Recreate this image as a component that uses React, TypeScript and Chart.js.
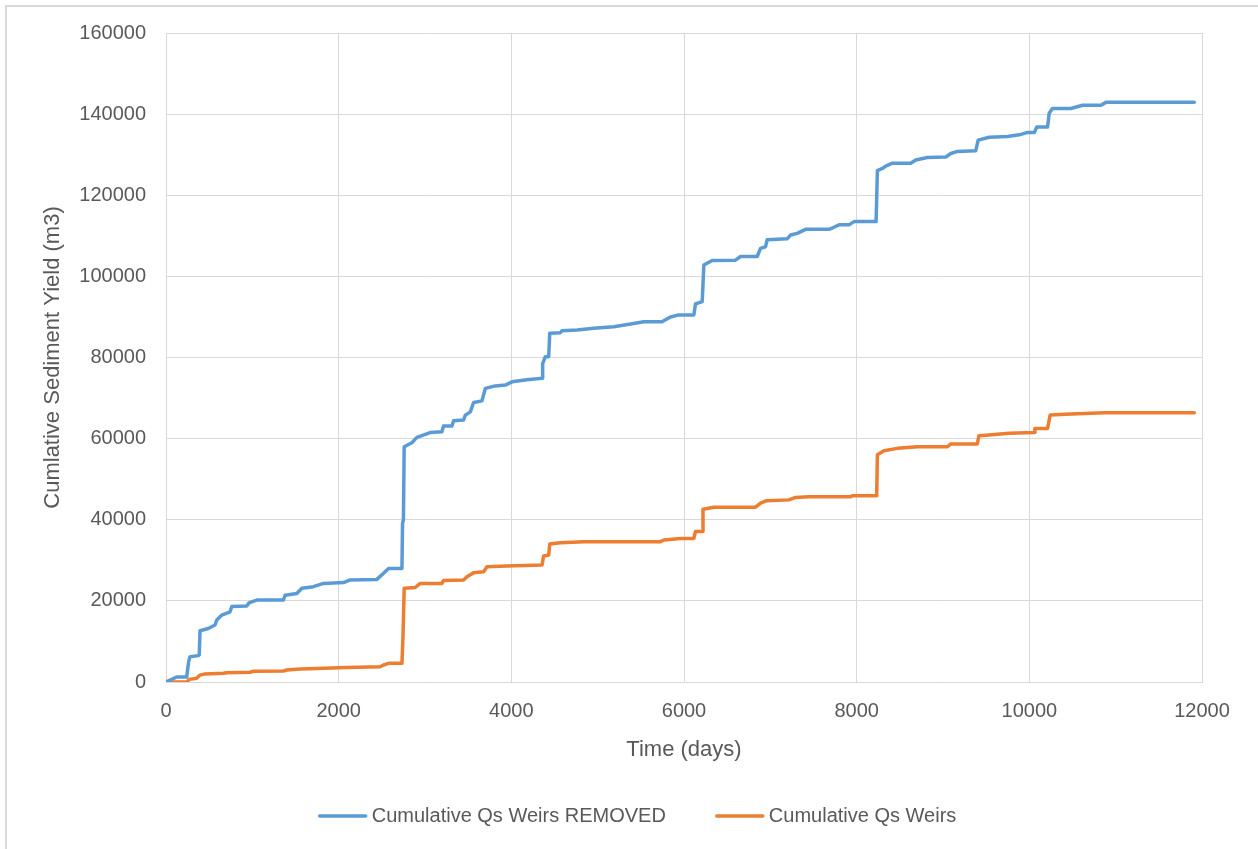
import React, { useEffect, useRef } from "react";
import { Chart, registerables } from "chart.js";

Chart.register(...registerables);

// ---- data ----
const seriesLabels = ["Cumulative Qs Weirs REMOVED", "Cumulative Qs Weirs"];
const xTicks = [0, 2000, 4000, 6000, 8000, 10000, 12000];
const yTicks = [0, 20000, 40000, 60000, 80000, 100000, 120000, 140000, 160000];

const removedDays = [
  0, 124, 240, 262, 278, 375, 385, 394, 490, 568, 588, 646, 742, 762, 935, 960, 1050, 1360, 1380, 1515,
  1573, 1708, 1824, 2056, 2133, 2443, 2520, 2578, 2733, 2740, 2750, 2759, 2848, 2906, 3061, 3196, 3214,
  3312, 3331, 3447, 3467, 3525, 3563, 3660, 3699, 3814, 3930, 4008, 4181, 4356, 4363, 4394, 4433, 4445,
  4567, 4586, 4762, 4954, 5186, 5417, 5533, 5745, 5843, 5939, 6114, 6133, 6211, 6230, 6326, 6596, 6655,
  6848, 6886, 6944, 6963, 7197, 7235, 7311, 7408, 7679, 7737, 7796, 7911, 7969, 8225, 8240, 8298, 8336,
  8414, 8626, 8684, 8819, 9032, 9090, 9167, 9380, 9407, 9535, 9748, 9883, 9980, 10058, 10087, 10211, 10230,
  10268, 10481, 10617, 10829, 10887, 11911,
];
const removedValues = [
  0, 1240, 1240, 5000, 6240, 6500, 6700, 12650, 13200, 14050, 15300, 16500, 17300, 18600, 18750, 19500,
  20200, 20200, 21400, 21800, 23100, 23500, 24300, 24500, 25150, 25300, 26800, 28000, 28000, 39100, 40000,
  58000, 59000, 60300, 61500, 61700, 63100, 63100, 64400, 64600, 65800, 66600, 68900, 69300, 72400, 73000,
  73200, 74000, 74500, 74900, 78500, 80200, 80200, 86000, 86100, 86600, 86800, 87200, 87600, 88400, 88800,
  88800, 90000, 90500, 90500, 93200, 93800, 102800, 103900, 104000, 104900, 104900, 106900, 107300, 109000,
  109300, 110200, 110600, 111600, 111600, 112100, 112700, 112700, 113500, 113500, 126100, 126600, 127200,
  127900, 127900, 128700, 129300, 129400, 130300, 130800, 131000, 133600, 134300, 134500, 134900, 135500,
  135500, 136800, 136800, 140200, 141400, 141400, 142200, 142200, 142900, 142900,
];

const weirsDays = [
  0, 240, 270, 355, 394, 452, 665, 704, 974, 1012, 1360, 1399, 1554, 1747, 2095, 2481, 2520, 2578, 2733,
  2745, 2759, 2887, 2945, 3196, 3214, 3447, 3486, 3563, 3679, 3718, 3949, 4356, 4374, 4433, 4445, 4567,
  4838, 5728, 5767, 5959, 6114, 6133, 6211, 6220, 6345, 6829, 6887, 6957, 7215, 7293, 7447, 7930, 7949,
  8232, 8240, 8316, 8471, 8703, 9052, 9090, 9397, 9416, 9533, 9765, 10058, 10064, 10211, 10241, 10481,
  10867, 11911,
];
const weirsValues = [
  0, 0, 650, 900, 1700, 2000, 2150, 2300, 2400, 2650, 2700, 2950, 3200, 3350, 3600, 3750, 4200, 4600, 4600,
  11200, 23100, 23300, 24300, 24300, 25000, 25150, 25950, 26950, 27200, 28400, 28600, 28850, 31050, 31300,
  34000, 34350, 34600, 34600, 35000, 35400, 35400, 37100, 37100, 42600, 43100, 43100, 44100, 44700, 44900,
  45500, 45700, 45700, 45900, 45900, 56000, 57000, 57600, 58000, 58000, 58700, 58700, 60700, 60900, 61300,
  61500, 62500, 62500, 65800, 66100, 66400, 66400,
];

const colors = ["#5B9BD5", "#ED7D31"];
const FONT = '"Liberation Sans", Arial, sans-serif';
const TEXT = "#595959";
const GRID = "#D9D9D9";

const toPoints = (xs: number[], ys: number[]) => xs.map((x, i) => ({ x, y: ys[i] }));

const bottomLegend = {
  id: "bottomLegend",
  afterDraw(chart: any) {
    const ctx = chart.ctx as CanvasRenderingContext2D;
    ctx.save();
    ctx.font = `20px ${FONT}`;
    const lineLen = 50;
    const gapText = 4;
    const gapItem = 49;
    const items = chart.data.datasets.map((ds: any) => ({
      label: ds.label,
      color: ds.borderColor,
      width: ctx.measureText(ds.label).width,
    }));
    const total =
      items.reduce((s: number, it: any) => s + lineLen + gapText + it.width, 0) + gapItem * (items.length - 1);
    let x = chart.width / 2 + 8 - total / 2;
    const y = 816;
    items.forEach((it: any) => {
      ctx.strokeStyle = it.color;
      ctx.lineWidth = 3.5;
      ctx.lineCap = "round";
      ctx.beginPath();
      ctx.moveTo(x + 2, y);
      ctx.lineTo(x + lineLen - 2, y);
      ctx.stroke();
      ctx.fillStyle = TEXT;
      ctx.textBaseline = "middle";
      ctx.textAlign = "left";
      ctx.fillText(it.label, x + lineLen + gapText, y);
      x += lineLen + gapText + it.width + gapItem;
    });
    ctx.restore();
  },
};

export default function App() {
  const ref = useRef<HTMLCanvasElement | null>(null);

  useEffect(() => {
    if (!ref.current) return;
    const chart = new Chart(ref.current, {
      type: "line",
      data: {
        datasets: [
          {
            label: seriesLabels[0],
            data: toPoints(removedDays, removedValues),
            borderColor: colors[0],
            backgroundColor: colors[0],
            borderWidth: 3.5,
            pointRadius: 0,
            tension: 0,
            borderJoinStyle: "round",
            borderCapStyle: "round",
          },
          {
            label: seriesLabels[1],
            data: toPoints(weirsDays, weirsValues),
            borderColor: colors[1],
            backgroundColor: colors[1],
            borderWidth: 3.5,
            pointRadius: 0,
            tension: 0,
            borderJoinStyle: "round",
            borderCapStyle: "round",
          },
        ],
      },
      options: {
        animation: false,
        responsive: false,
        maintainAspectRatio: false,
        layout: { padding: { left: 40, right: 56, top: 33, bottom: 85.8 } },
        plugins: {
          legend: { display: false },
          tooltip: { enabled: false },
        },
        scales: {
          x: {
            type: "linear",
            min: xTicks[0],
            max: xTicks[xTicks.length - 1],
            afterBuildTicks: (s: any) => {
              s.ticks = xTicks.map((v) => ({ value: v }));
            },
            afterFit: (s: any) => {
              s.height = 81.2;
            },
            grid: { color: GRID, lineWidth: 1, drawTicks: false },
            border: { color: GRID, width: 1 },
            ticks: {
              padding: 17,
              color: TEXT,
              font: { family: FONT, size: 20 },
              maxRotation: 0,
              callback: (v: any) => String(v),
            },
            title: {
              display: true,
              text: "Time (days)",
              color: TEXT,
              font: { family: FONT, size: 22 },
              padding: 0,
            },
          },
          y: {
            type: "linear",
            min: yTicks[0],
            max: yTicks[yTicks.length - 1],
            afterBuildTicks: (s: any) => {
              s.ticks = yTicks.map((v) => ({ value: v }));
            },
            afterFit: (s: any) => {
              s.width = 126;
            },
            grid: { color: GRID, lineWidth: 1, drawTicks: false },
            border: { color: GRID, width: 1 },
            ticks: {
              padding: 20,
              color: TEXT,
              font: { family: FONT, size: 20 },
              callback: (v: any) => String(v),
            },
            title: {
              display: true,
              text: "Cumlative Sediment Yield (m3)",
              color: TEXT,
              font: { family: FONT, size: 22 },
              padding: 0,
            },
          },
        },
      },
      plugins: [bottomLegend],
    });
    return () => chart.destroy();
  }, []);

  return (
    <div
      style={{
        position: "fixed",
        left: 0,
        top: 0,
        width: 1258,
        height: 849,
        overflow: "hidden",
        background: "#ffffff",
      }}
    >
      <div
        style={{
          position: "absolute",
          left: 5,
          top: 5,
          width: 1400,
          height: 1000,
          borderLeft: "2px solid #D9D9D9",
          borderTop: "2px solid #D9D9D9",
        }}
      />
      <canvas ref={ref} width={1258} height={849} style={{ position: "absolute", left: 0, top: 0 }} />
    </div>
  );
}
